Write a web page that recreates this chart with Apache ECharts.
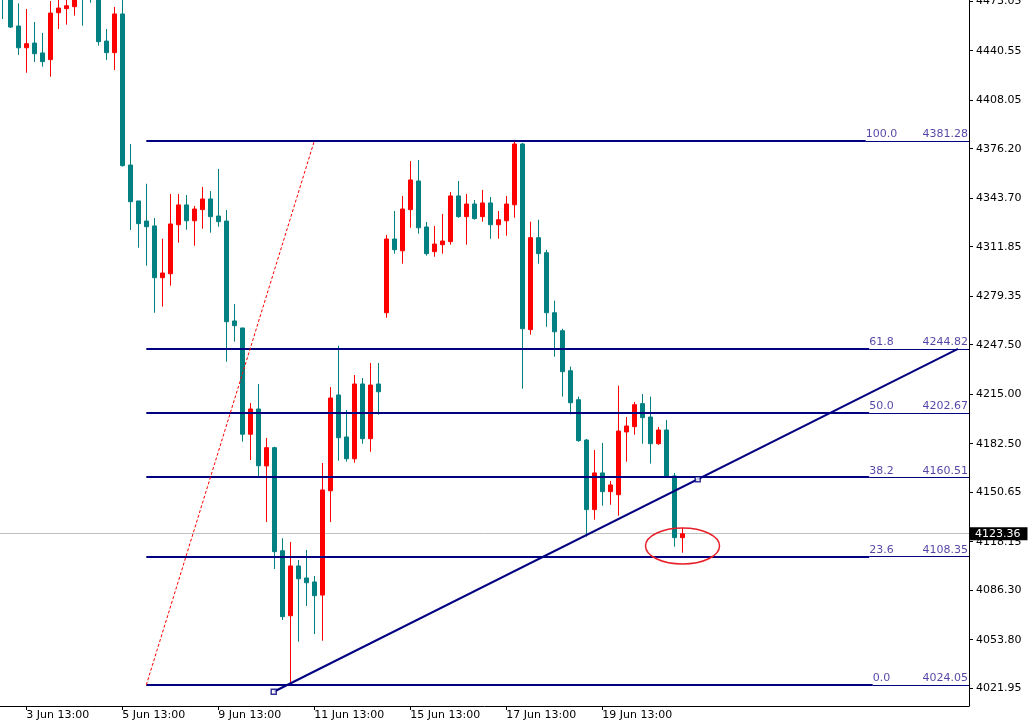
<!DOCTYPE html>
<html><head><meta charset="utf-8">
<script src="https://cdn.jsdelivr.net/npm/echarts@6/dist/echarts.min.js"></script>
<style>html,body{margin:0;padding:0;background:#fff}#c{width:1031px;height:725px}</style>
</head><body><div id="c"></div>
<script>
// ---- data (H4 bars, index 0..85) ----
const opens  = [4490,4478,4456.8,4442.5,4445.6,4439.1,4434.7,4465.5,4468.2,4469.5,4482,4492,4480,4446.9,4439.3,4464.7,4365.5,4341.9,4328.7,4325.5,4291.5,4294.1,4326.3,4339.3,4328.9,4336.2,4343.2,4332.0,4328.7,4263.1,4258.5,4188.7,4205.3,4167.9,4179.9,4112.2,4069.5,4102.2,4094.3,4091.7,4083.1,4151.6,4214.5,4186.9,4172.6,4221.7,4185.8,4221.7,4268.5,4316.9,4309.2,4336.2,4355.0,4324.8,4308.6,4313.2,4315.2,4345.2,4331.6,4339.9,4331.6,4340.6,4326.3,4328.9,4339.4,4379.3,4257.4,4317.8,4307.9,4268.5,4256.7,4230.4,4211.4,4184.9,4139.2,4163.3,4151.0,4149.0,4190.2,4193.7,4208.8,4200.0,4182.5,4191.5,4161.3,4120.8];
const highs  = [4498,4485,4471.7,4468.0,4459.4,4452.2,4473.2,4475,4476,4490,4488,4498,4486,4454.8,4469.3,4476,4379.3,4341.9,4353.2,4330.7,4317.1,4346.5,4346.5,4345.8,4338.6,4351.1,4348.4,4362.9,4336.0,4274.2,4258.5,4209.2,4221.7,4186.2,4180.5,4120.4,4117.9,4106.1,4112.7,4095.6,4169.8,4219.7,4246.9,4204.6,4227.6,4225.6,4235.5,4235.5,4319.6,4335.3,4345.2,4368.1,4368.8,4328.1,4325.5,4333.3,4347.8,4355.0,4346.5,4342.5,4349.1,4344.5,4335.3,4345.2,4381.28,4380.0,4328.3,4329.6,4309.9,4276.4,4258.0,4233.1,4213.4,4185.6,4178.4,4183.0,4158.0,4220.6,4200.0,4209.9,4215.1,4213.4,4193.5,4198.1,4163.3,4127.3];
const lows   = [4461.4,4455.5,4437.8,4426.1,4433.2,4430.1,4423.5,4454.8,4457.7,4463.6,4457.0,4472.1,4443.9,4434.5,4427.9,4364.5,4322.8,4311.2,4299.4,4268.5,4272.5,4286.3,4314.5,4323.0,4312.5,4323.7,4321.1,4325.0,4236.3,4249.5,4183.8,4171.8,4160.8,4131.1,4100.2,4066.7,4024.05,4052.5,4075.9,4057.5,4053.1,4131.1,4171.3,4170.7,4170.0,4182.5,4177.2,4201.5,4265.2,4307.3,4300.7,4324.3,4320.4,4306.0,4305.3,4307.3,4313.2,4330.9,4313.2,4329.6,4328.3,4317.1,4317.1,4319.1,4330.9,4218.6,4254.1,4300.7,4259.3,4239.6,4213.4,4201.8,4183.8,4121.4,4132.6,4141.8,4142.4,4135.2,4170.7,4188.4,4182.5,4169.4,4181.8,4160.5,4114.9,4110.9];
const closes = [4478,4456.1,4442.5,4445.2,4438.6,4433.4,4465.3,4468.6,4470.1,4482,4476,4480,4446.5,4439.3,4464.7,4365.1,4341.4,4327.0,4325.0,4291.5,4294.6,4326.8,4339.3,4328.9,4336.6,4343.2,4331.6,4328.3,4262.6,4260.0,4188.7,4205.3,4168.0,4179.9,4111.6,4068.9,4102.2,4093.8,4091.2,4082.7,4152.1,4212.5,4186.4,4172.6,4221.7,4185.8,4221.0,4216.6,4316.9,4309.9,4336.6,4355.7,4324.3,4307.3,4313.6,4315.6,4345.2,4331.6,4339.9,4330.3,4340.6,4326.3,4329.6,4339.9,4379.3,4258.0,4317.8,4307.3,4268.5,4256.0,4229.8,4209.4,4184.5,4139.2,4163.3,4151.0,4155.4,4190.8,4194.1,4208.1,4199.6,4182.5,4191.5,4160.8,4120.8,4123.36];

const timeTickIndex  = [3,15,27,39,51,63,75];
const timeTickLabels = ['3 Jun 13:00','5 Jun 13:00','9 Jun 13:00','11 Jun 13:00','15 Jun 13:00','17 Jun 13:00','19 Jun 13:00'];
const priceTicks = [4021.95,4053.80,4086.30,4118.15,4150.65,4182.50,4215.00,4247.50,4279.35,4311.85,4343.70,4376.20,4408.05,4440.55,4473.05];

const fibLevelLabels = ['0.0','23.6','38.2','50.0','61.8','100.0'];
const fibPrices      = [4024.05,4108.35,4160.51,4202.67,4244.82,4381.28];
const fibAnchors     = [[18,4024.05],[39,4381.28]];          // bar index, price
const trendAnchors   = [[33.93,4019.6],[86.93,4159.1]];
const trendEnd       = [119.46,4244.7];
const ellipseCenter  = [85.03,4115.3];
const lastPrice      = 4123.36;

// ---- layout ----
const X_MIN = -0.2875, X_MAX = 120.84, Y_MIN = 4010.24, Y_MAX = 4473.87;
const GRID = {left:0, top:0, right:62, bottom:19, outerBoundsMode: 'none', containLabel: false};
const FONT = 'DejaVu Sans';
const NAVY = '#000080', TEAL = '#008080', RED = '#ff0000', TXT = '#28158f';
const gridW = 1031 - GRID.left - GRID.right;
const pxPerIdx = gridW / (X_MAX - X_MIN);
const fibTextCenter = 109.9;
const ctx = document.createElement('canvas').getContext('2d');
ctx.font = '11px "' + FONT + '"';
const thickEnd = fibLevelLabels.map(t => fibTextCenter - (ctx.measureText(t).width / 2) / pxPerIdx);

const candleData = opens.map((o, i) => [i, o, closes[i], lows[i], highs[i]]);

const chart = echarts.init(document.getElementById('c'), null, {renderer: 'canvas'});
chart.setOption({
  animation: false,
  backgroundColor: '#fff',
  grid: GRID,
  xAxis: {
    type: 'value', min: X_MIN, max: X_MAX,
    axisLine: {show: true, onZero: false, lineStyle: {color: '#000', width: 1}},
    axisTick: {show: true, length: 4, customValues: timeTickIndex, lineStyle: {color: '#000'}},
    axisLabel: {show: true, customValues: timeTickIndex, align: 'left', margin: 4,
      color: '#000', fontSize: 11, fontFamily: FONT,
      formatter: v => timeTickLabels[timeTickIndex.indexOf(Math.round(v))] || ''},
    splitLine: {show: false}
  },
  yAxis: {
    type: 'value', position: 'right', min: Y_MIN, max: Y_MAX, scale: true,
    axisLine: {show: true, onZero: false, lineStyle: {color: '#000', width: 1}},
    axisTick: {show: true, length: 4, customValues: priceTicks, lineStyle: {color: '#000'}},
    axisLabel: {show: true, customValues: priceTicks, margin: 7, color: '#000', fontSize: 11, fontFamily: FONT,
      formatter: v => v.toFixed(2)},
    splitLine: {show: false}
  },
  series: [
    {
      type: 'candlestick', data: candleData, encode: {x: 0, y: [1, 2, 3, 4]},
      barWidth: 4, z: 2,
      itemStyle: {color: RED, color0: TEAL, borderColor: RED, borderColor0: TEAL, borderWidth: 1},
      markLine: {
        silent: true, symbol: 'none', z: 1, animation: false,
        data: [{yAxis: lastPrice}],
        lineStyle: {color: '#c0c0c0', type: 'solid', width: 1},
        label: {show: true, position: 'end', distance: 1, formatter: () => lastPrice.toFixed(2),
          backgroundColor: '#000', color: '#fff', fontSize: 11, fontFamily: FONT, padding: [1, 7, 1, 5]}
      }
    },
    { // thick fib level segments
      type: 'lines', coordinateSystem: 'cartesian2d', z: 5, silent: true,
      lineStyle: {color: NAVY, width: 2, opacity: 1},
      data: fibPrices.map((p, i) => ({coords: [[fibAnchors[0][0], p], [thickEnd[i], p]]}))
    },
    { // thin continuation
      type: 'lines', coordinateSystem: 'cartesian2d', z: 5, silent: true,
      lineStyle: {color: NAVY, width: 1, opacity: 1},
      data: fibPrices.map((p, i) => ({coords: [[thickEnd[i], p], [X_MAX, p]]}))
    },
    { // fib diagonal
      type: 'lines', coordinateSystem: 'cartesian2d', z: 5, silent: true,
      lineStyle: {color: RED, width: 1, type: [3, 2], opacity: 1},
      data: [{coords: fibAnchors}]
    },
    { // trendline
      type: 'lines', coordinateSystem: 'cartesian2d', z: 6, silent: true,
      lineStyle: {color: NAVY, width: 2, opacity: 1},
      data: [{coords: [trendAnchors[0], trendEnd]}]
    },
    { // trendline anchor squares
      type: 'scatter', symbol: 'rect', symbolSize: 5, z: 7, silent: true,
      itemStyle: {color: '#fff', borderColor: NAVY, borderWidth: 1.5},
      data: trendAnchors
    },
    { // level labels
      type: 'scatter', symbolSize: 0, z: 8, silent: true,
      data: fibPrices.map((p, i) => [fibTextCenter, p, fibLevelLabels[i]]),
      label: {show: true, position: 'top', distance: 1, align: 'center', color: TXT, fontSize: 11, fontFamily: FONT,
        formatter: d => d.value[2]}
    },
    { // price labels
      type: 'scatter', symbolSize: 0, z: 8, silent: true,
      data: fibPrices.map(p => [X_MAX - 0.12, p]),
      label: {show: true, position: 'top', distance: 1, align: 'right', color: TXT, fontSize: 11, fontFamily: FONT,
        formatter: d => d.value[1].toFixed(2)}
    },
    { // red ellipse annotation
      type: 'custom', z: 9, silent: true, clip: false,
      data: [ellipseCenter],
      renderItem: (params, api) => {
        const c = api.coord([api.value(0), api.value(1)]);
        return {type: 'ellipse', shape: {cx: c[0], cy: c[1], rx: 37, ry: 18},
          style: {fill: 'none', stroke: '#e8202a', lineWidth: 1.5}};
      }
    }
  ]
});
</script></body></html>
